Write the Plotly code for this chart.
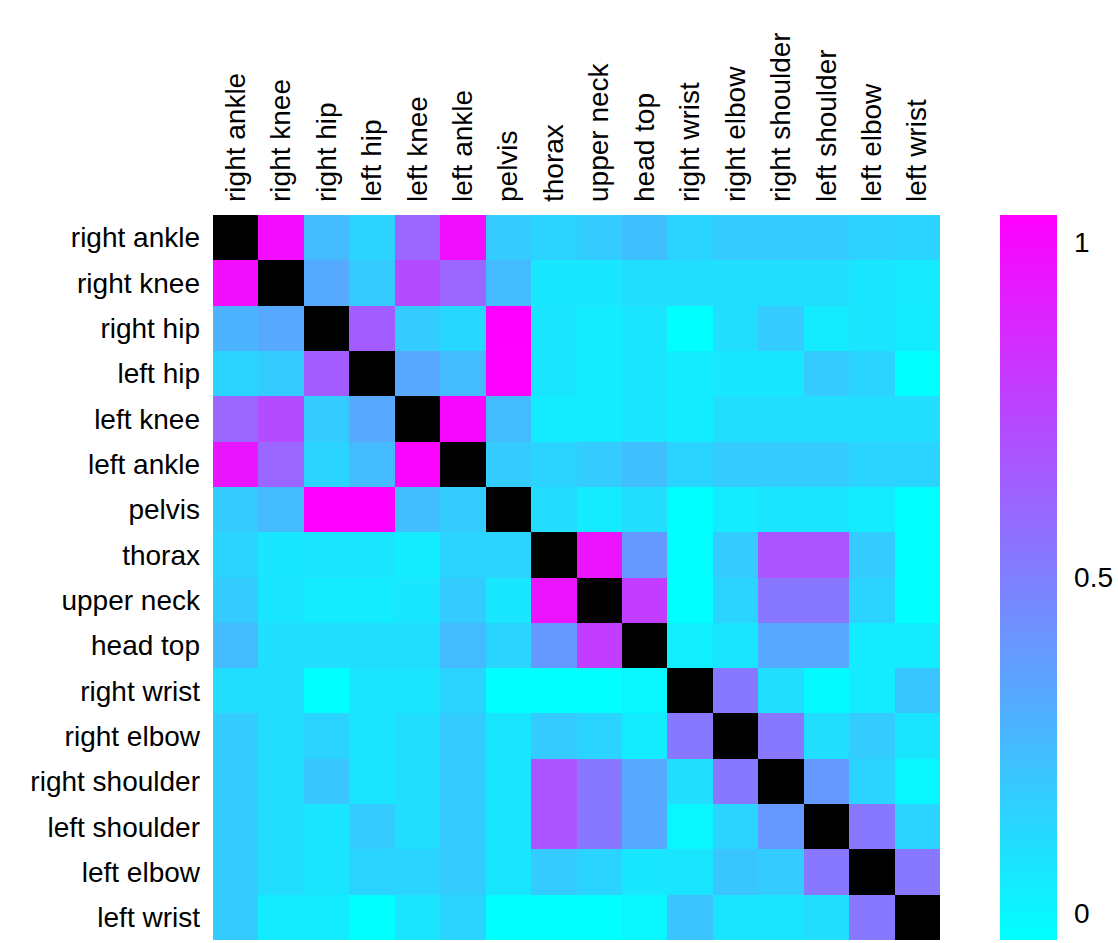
import numpy as np
import plotly.graph_objects as go

# Joint names, in the same order for rows and columns
joints = [
    "right ankle", "right knee", "right hip", "left hip", "left knee",
    "left ankle", "pelvis", "thorax", "upper neck", "head top",
    "right wrist", "right elbow", "right shoulder", "left shoulder",
    "left elbow", "left wrist",
]

nan = np.nan

# Pairwise joint correlation, one list per row (diagonal left empty)
right_ankle    = [nan, 0.99, 0.25, 0.14, 0.61, 0.98, 0.18, 0.14, 0.18, 0.23, 0.14, 0.18, 0.18, 0.18, 0.15, 0.14]
right_knee     = [0.98, nan, 0.32, 0.18, 0.72, 0.61, 0.25, 0.06, 0.06, 0.10, 0.10, 0.10, 0.10, 0.10, 0.07, 0.05]
right_hip      = [0.28, 0.33, nan, 0.65, 0.18, 0.13, 1.04, 0.07, 0.04, 0.07, -0.04, 0.10, 0.18, 0.04, 0.07, 0.04]
left_hip       = [0.14, 0.18, 0.65, nan, 0.33, 0.25, 1.03, 0.07, 0.04, 0.07, 0.04, 0.06, 0.06, 0.18, 0.14, -0.04]
left_knee      = [0.61, 0.72, 0.18, 0.33, nan, 1.01, 0.25, 0.04, 0.04, 0.07, 0.04, 0.10, 0.10, 0.10, 0.10, 0.10]
left_ankle     = [0.95, 0.61, 0.14, 0.25, 1.02, nan, 0.18, 0.14, 0.18, 0.23, 0.14, 0.18, 0.18, 0.18, 0.14, 0.14]
pelvis         = [0.18, 0.25, 1.04, 1.04, 0.24, 0.18, nan, 0.11, 0.04, 0.10, -0.04, 0.04, 0.07, 0.07, 0.04, -0.04]
thorax         = [0.14, 0.06, 0.07, 0.07, 0.04, 0.14, 0.14, nan, 0.96, 0.39, -0.04, 0.18, 0.68, 0.68, 0.18, -0.04]
upper_neck     = [0.18, 0.07, 0.04, 0.04, 0.06, 0.18, 0.06, 0.96, nan, 0.78, -0.04, 0.14, 0.53, 0.53, 0.14, -0.04]
head_top       = [0.25, 0.10, 0.10, 0.10, 0.10, 0.25, 0.14, 0.39, 0.78, nan, 0.03, 0.07, 0.33, 0.33, 0.04, 0.04]
right_wrist    = [0.10, 0.10, -0.04, 0.07, 0.07, 0.14, -0.04, -0.04, -0.04, 0.00, nan, 0.53, 0.10, -0.02, 0.04, 0.20]
right_elbow    = [0.18, 0.10, 0.14, 0.07, 0.10, 0.18, 0.07, 0.18, 0.14, 0.04, 0.53, nan, 0.53, 0.10, 0.18, 0.07]
right_shoulder = [0.18, 0.10, 0.20, 0.07, 0.10, 0.18, 0.07, 0.68, 0.53, 0.33, 0.10, 0.53, nan, 0.39, 0.14, 0.00]
left_shoulder  = [0.18, 0.10, 0.07, 0.18, 0.10, 0.18, 0.07, 0.68, 0.53, 0.33, 0.00, 0.14, 0.39, nan, 0.53, 0.14]
left_elbow     = [0.18, 0.10, 0.07, 0.14, 0.14, 0.18, 0.07, 0.18, 0.14, 0.06, 0.07, 0.20, 0.18, 0.53, nan, 0.53]
left_wrist     = [0.18, 0.04, 0.04, -0.04, 0.07, 0.14, -0.04, -0.04, -0.04, 0.00, 0.21, 0.07, 0.07, 0.10, 0.53, nan]

z = [
    right_ankle, right_knee, right_hip, left_hip, left_knee, left_ankle,
    pelvis, thorax, upper_neck, head_top, right_wrist, right_elbow,
    right_shoulder, left_shoulder, left_elbow, left_wrist,
]

cbar_ticks = [0, 0.5, 1]

FONT = "Liberation Sans, Arial, sans-serif"
FONT_SIZE = 28

fig = go.Figure(
    go.Heatmap(
        z=z,
        x=joints,
        y=joints,
        zmin=-0.04,
        zmax=1.04,
        colorscale=[[0, "rgb(0,255,255)"], [1, "rgb(255,0,255)"]],
        xgap=0,
        ygap=0,
        colorbar=dict(
            thickness=57,
            len=1.0,
            lenmode="fraction",
            y=0.5,
            yanchor="middle",
            x=1.0825,
            xanchor="left",
            xpad=0,
            ypad=0,
            outlinewidth=0,
            tickvals=cbar_ticks,
            ticktext=[str(t) for t in cbar_ticks],
            ticks="outside",
            ticklen=12,
            tickcolor="rgba(0,0,0,0)",
            tickfont=dict(family=FONT, size=FONT_SIZE, color="black"),
        ),
    )
)

fig.update_layout(
    width=1118,
    height=943,
    margin=dict(l=213, r=178, t=215, b=3),
    paper_bgcolor="white",
    plot_bgcolor="black",
    font=dict(family=FONT, size=FONT_SIZE, color="black"),
)

fig.update_xaxes(
    side="top",
    tickangle=-90,
    showgrid=False,
    zeroline=False,
    ticks="",
    ticklabelstandoff=12,
    tickfont=dict(family=FONT, size=FONT_SIZE, color="black"),
)
fig.update_yaxes(
    autorange="reversed",
    showgrid=False,
    zeroline=False,
    ticks="",
    ticklabelstandoff=12,
    tickfont=dict(family=FONT, size=FONT_SIZE, color="black"),
)

fig.write_html("out.html")
